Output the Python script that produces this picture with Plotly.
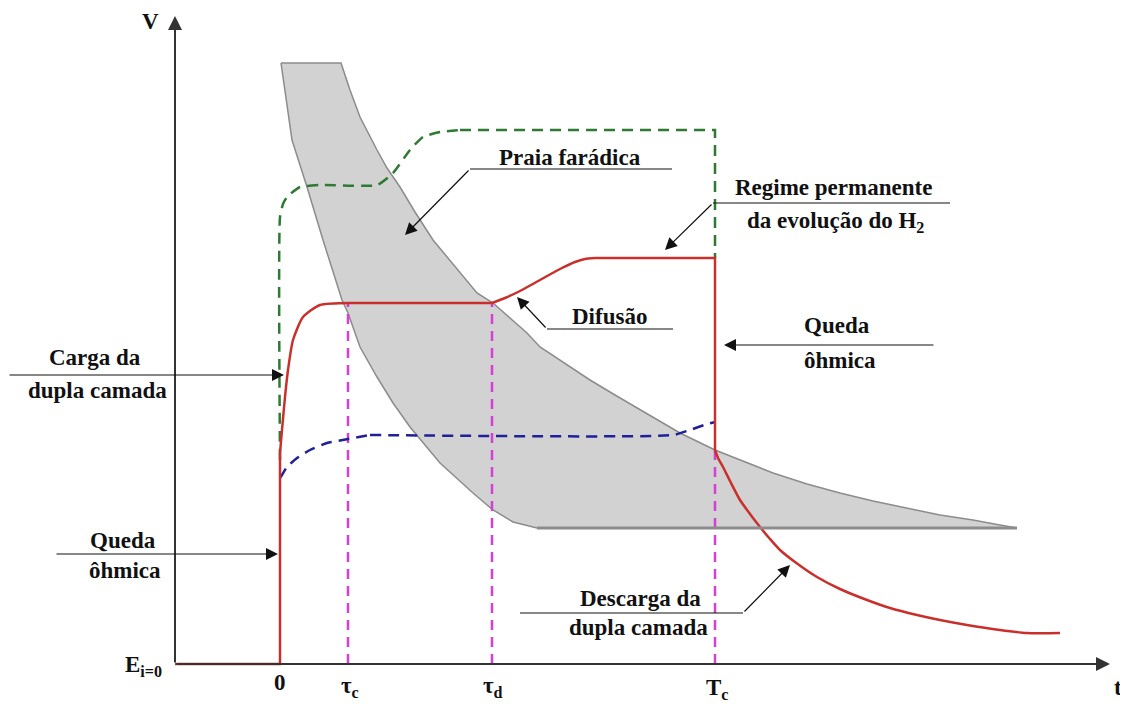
import plotly.graph_objects as go

# Chronopotentiometric schematic: t (time, arbitrary units), V (potential, arbitrary units)
# key instants
t_zero = 0
tau_c = 68
tau_d = 212
T_c = 435

# red: measured potential curve, split at the sharp jumps
red_base_t = [-105, 0, 0]
red_base_v = [0, 0, 211]
red_rise_t = [0, 2, 5, 8, 13, 23, 40, 70]
red_rise_v = [211, 234, 267, 294, 324, 347, 359, 361]
red_flat_t = [70, 212]
red_flat_v = [361, 361]
red_diff_t = [212, 225, 240, 260, 280, 295, 305, 315]
red_diff_v = [361, 366, 373, 384, 395, 402, 405, 406]
red_top_t = [315, 435, 435]
red_top_v = [406, 406, 214]
red_decay_t = [435, 438, 443, 450, 460, 470, 480, 490, 500, 515, 537, 560, 587, 610, 637, 660, 687, 720, 747, 780]
red_decay_v = [214, 206, 197, 183, 164, 150, 137, 125, 114, 102, 87, 75, 64, 56, 49, 44, 39, 34, 31, 31]

# green dashed: upper potential path
green_t = [0, 0, 3, 7, 20, 40, 97, 113, 130, 143, 160, 180]
green_v = [204, 447, 460, 467, 477, 479, 479, 491, 514, 527, 532, 534]
green_top_t = [180, 435, 435]
green_top_v = [534, 534, 406]

# blue dashed: lower potential path
blue_t = [0, 2, 7, 17, 30, 47, 68, 90]
blue_v = [186, 189, 197, 206, 214, 221, 225, 229]
blue_end_t = [90, 393, 410, 427, 435]
blue_end_v = [229, 229, 234, 240, 242]

# grey band ("praia farádica"): down the left edge, along the floor, back up the right edge
band_t = [1, 6, 12, 27, 43, 62, 68, 80, 97, 113, 130, 160, 193, 213, 233, 257, 737,
          720, 693, 660, 627, 593, 560, 527, 493, 465, 435, 400, 360, 335, 310, 280, 260, 247,
          213, 197, 175, 153, 135, 120, 107, 97, 80, 70, 61, 1]
band_v = [601, 565, 524, 477, 424, 364, 351, 317, 287, 261, 237, 201, 171, 154, 142, 136, 136,
          139, 144, 149, 156, 163, 171, 180, 191, 202, 214, 231, 254, 269, 284, 304, 317, 331,
          361, 371, 397, 424, 452, 477, 496, 514, 547, 574, 601, 601]

# magenta dashed markers at the characteristic times
marker_t = [tau_c, tau_d, T_c]
marker_top = [361, 361, 214]

axis_t = [-105, 830]
axis_v = [0, 648]

RED = "#c9302c"
GREEN = "#2e7a33"
BLUE = "#20209a"
MAGENTA = "#d43fd4"
FONT = "Liberation Serif, Times New Roman, serif"

fig = go.Figure()

fig.add_trace(go.Scatter(x=band_t, y=band_v, fill="toself", fillcolor="#d2d2d2",
                         mode="lines", line=dict(color="#8c8c8c", width=1.5)))
fig.add_shape(type="line", x0=257, x1=737, y0=136, y1=136,
              line=dict(color="#8c8c8c", width=3))

for t, top in zip(marker_t, marker_top):
    fig.add_trace(go.Scatter(x=[t, t], y=[0, top], mode="lines",
                             line=dict(color=MAGENTA, width=2.5, dash="10px,7px")))

green_line = dict(color=GREEN, width=2.5, dash="11px,7px", smoothing=0.5)
fig.add_trace(go.Scatter(x=green_t, y=green_v, mode="lines", line_shape="spline", line=green_line))
fig.add_trace(go.Scatter(x=green_top_t, y=green_top_v, mode="lines", line=green_line))

blue_line = dict(color=BLUE, width=2.5, dash="11px,7px", smoothing=0.5)
fig.add_trace(go.Scatter(x=blue_t, y=blue_v, mode="lines", line_shape="spline", line=blue_line))
fig.add_trace(go.Scatter(x=blue_end_t, y=blue_end_v, mode="lines", line_shape="spline", line=blue_line))

red_line = dict(color=RED, width=2.5, smoothing=0.6)
for xs, ys, shp in [(red_base_t, red_base_v, "linear"), (red_rise_t, red_rise_v, "spline"),
                    (red_flat_t, red_flat_v, "linear"), (red_diff_t, red_diff_v, "spline"),
                    (red_top_t, red_top_v, "linear"), (red_decay_t, red_decay_v, "spline")]:
    fig.add_trace(go.Scatter(x=xs, y=ys, mode="lines", line_shape=shp, line=red_line))


def arrow(x0, y0, x1, y1, width=1.2, size=2.0, color="#111"):
    fig.add_annotation(x=x1, y=y1, ax=x0, ay=y0, xref="x", yref="y", axref="x", ayref="y",
                       text="", showarrow=True, arrowhead=2, arrowsize=size,
                       arrowwidth=width, arrowcolor=color)


def seg(x0, y0, x1, y1):
    fig.add_shape(type="line", x0=x0, y0=y0, x1=x1, y1=y1, line=dict(color="#111", width=1.2))


def label(x, y, txt, size=23):
    fig.add_annotation(x=x, y=y, text="<b>" + txt + "</b>", showarrow=False,
                       font=dict(family=FONT, size=size, color="#111"),
                       xanchor="center", yanchor="middle")


# axes with arrowheads
arrow(axis_t[0], 0, axis_t[1], 0, width=2, size=1.4, color="#333")
arrow(axis_t[0], 0, axis_t[0], axis_v[1], width=2, size=1.4, color="#333")

# axis labels
label(-130, 643, "V")
label(838, -23, "t")
label(-137, -2, "E<sub>i=0</sub>")
label(0, -18, "0")
label(tau_c + 2, -23, "τ<sub>c</sub>")
label(tau_d + 1, -23, "τ<sub>d</sub>")
label(T_c + 2, -25, "T<sub>c</sub>")

# callouts
label(-185, 307, "Carga da")
label(-183, 274, "dupla camada")
arrow(-272, 289, 4, 289)

label(-157, 124, "Queda")
label(-155, 94, "ôhmica")
arrow(-225, 110, -2, 110)

label(557, 339, "Queda")
label(560, 304, "ôhmica")
arrow(655, 319, 444, 319)

label(329, 348, "Difusão")
seg(393, 335, 267, 335)
arrow(267, 335, 237, 367)

label(290, 507, "Praia farádica")
seg(392, 495, 190, 495)
arrow(190, 495, 125, 429)

label(553, 477, "Regime permanente")
label(555, 442, "da evolução do H<sub>2</sub>")
seg(670, 461, 433, 461)
arrow(433, 461, 385, 414)

label(360, 66, "Descarga da")
label(358, 37, "dupla camada")
seg(240, 51, 463, 51)
arrow(463, 51, 510, 99)

# the page body has an 8px margin, so the figure is 8px smaller and the ranges shifted
fig.update_layout(
    width=1120, height=696,
    margin=dict(l=0, r=0, t=0, b=0),
    paper_bgcolor="white", plot_bgcolor="white",
    showlegend=False,
    xaxis=dict(range=[-272, 848], visible=False),
    yaxis=dict(range=[-40, 656], visible=False),
)

fig.write_html("out.html")
